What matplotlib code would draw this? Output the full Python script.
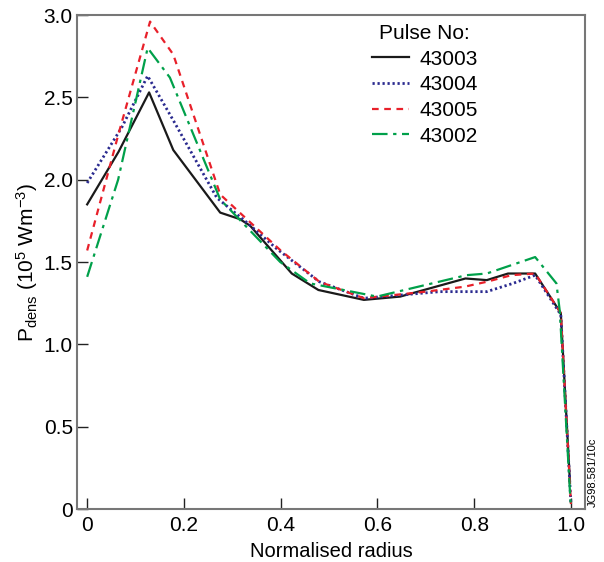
import numpy as np
import matplotlib
matplotlib.use('Agg')
import matplotlib.pyplot as plt
from matplotlib.ticker import FixedLocator, FixedFormatter

plt.rcParams['font.family'] = ['Liberation Sans', 'DejaVu Sans']
plt.rcParams['mathtext.fontset'] = 'custom'
plt.rcParams['mathtext.rm'] = 'Liberation Sans'
plt.rcParams['mathtext.it'] = 'Liberation Sans:italic'

# 43003 (black, solid)
x_43003 = [0, 0.065, 0.128, 0.178, 0.275, 0.316, 0.337, 0.423, 0.478, 0.572, 0.647,
           0.782, 0.826, 0.870, 0.926, 0.979, 0.998]
y_43003 = [1.85, 2.17, 2.53, 2.18, 1.80, 1.76, 1.72, 1.43, 1.33, 1.27, 1.29,
           1.40, 1.39, 1.43, 1.43, 1.19, 0.16]

# 43004 (blue, dotted)
x_43004 = [0, 0.072, 0.125, 0.18, 0.268, 0.33, 0.392, 0.48, 0.572, 0.729, 0.826,
           0.88, 0.926, 0.979, 1.0]
y_43004 = [1.98, 2.32, 2.63, 2.35, 1.89, 1.74, 1.58, 1.38, 1.28, 1.32, 1.32,
           1.37, 1.42, 1.18, 0.03]

# 43005 (red, dashed)
x_43005 = [0, 0.065, 0.13, 0.178, 0.275, 0.33, 0.40, 0.48, 0.572, 0.70, 0.78,
           0.826, 0.877, 0.926, 0.979, 1.0]
y_43005 = [1.57, 2.28, 2.96, 2.76, 1.91, 1.76, 1.57, 1.38, 1.28, 1.32, 1.35,
           1.38, 1.42, 1.43, 1.19, 0.03]

# 43002 (green, dash-dot)
x_43002 = [0, 0.064, 0.125, 0.171, 0.275, 0.399, 0.461, 0.599, 0.784, 0.826,
           0.926, 0.970, 0.977, 1.0]
y_43002 = [1.41, 2.00, 2.80, 2.62, 1.88, 1.50, 1.37, 1.29, 1.42, 1.43,
           1.53, 1.37, 1.20, 0.0]

xticks = [0, 0.2, 0.4, 0.6, 0.8, 1.0]
xticklabels = ['0', '0.2', '0.4', '0.6', '0.8', '1.0']
yticks = [0, 0.5, 1.0, 1.5, 2.0, 2.5, 3.0]
yticklabels = ['0', '0.5', '1.0', '1.5', '2.0', '2.5', '3.0']

fig = plt.figure(figsize=(6.04, 5.62), dpi=100)
ax = fig.add_axes([0.1275, 0.0943, 0.841, 0.879])

ax.plot(x_43003, y_43003, color='#1a1a1a', lw=1.6, ls='-', label='43003')
ax.plot(x_43004, y_43004, color='#2a2a8f', lw=2.0, ls=(0, (0.8, 1.0)), label='43004')
ax.plot(x_43005, y_43005, color='#e8202a', lw=1.6, ls=(0, (3, 2.5)), label='43005')
ax.plot(x_43002, y_43002, color='#00a04a', lw=1.6, ls=(0, (7, 2.5, 1.5, 2.5)), label='43002')

ax.set_xlim(-0.021, 1.029)
ax.set_ylim(0, 3.0)
ax.xaxis.set_major_locator(FixedLocator(xticks))
ax.xaxis.set_major_formatter(FixedFormatter(xticklabels))
ax.yaxis.set_major_locator(FixedLocator(yticks))
ax.yaxis.set_major_formatter(FixedFormatter(yticklabels))
ax.tick_params(direction='in', length=8, width=1.0, labelsize=15, color='#222222',
               top=False, right=False)
ax.tick_params(axis='x', pad=5)
ax.tick_params(axis='y', pad=3)
for s in ax.spines.values():
    s.set_color('#777777')
    s.set_linewidth(1.5)

ax.set_xlabel('Normalised radius', fontsize=14.5, labelpad=5)
ax.set_ylabel(r'P$_{\rm dens}$ (10$^5$ Wm$^{-3}$)', fontsize=15, labelpad=3)

leg = ax.legend(title='Pulse No:', loc='upper right', bbox_to_anchor=(0.814, 1.007),
                frameon=False, fontsize=15, title_fontsize=15, borderpad=0.1,
                handlelength=1.8, handletextpad=0.5, labelspacing=0.32)

fig.text(0.982, 0.16, 'JG98.581/10c', rotation=90, fontsize=8, ha='center', va='center')

fig.savefig('out.png', dpi=100)
